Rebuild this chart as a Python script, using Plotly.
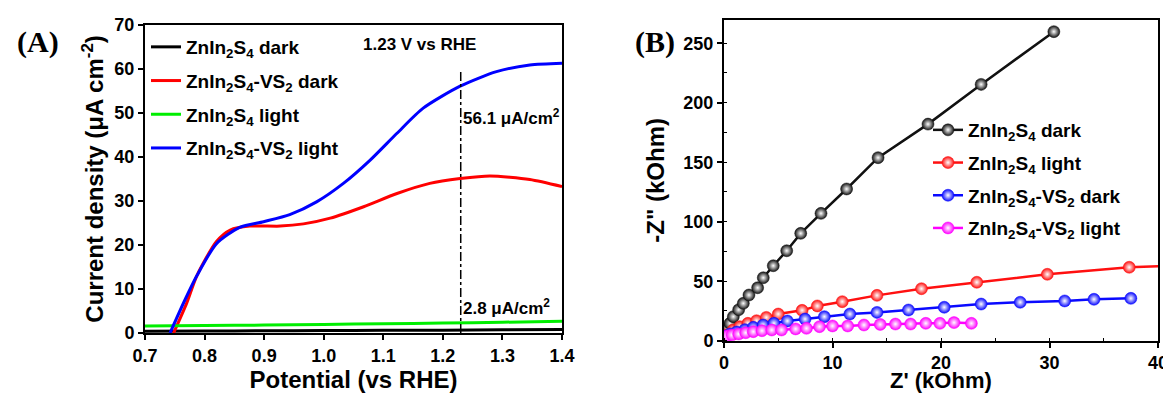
import plotly.graph_objects as go

# ---------------- Panel A data (LSV) ----------------
pot_black = [0.70, 0.80, 0.90, 1.00, 1.10, 1.20, 1.30, 1.40]
cur_black = [0.40, 0.45, 0.50, 0.55, 0.60, 0.65, 0.72, 0.80]

pot_red = [0.748, 0.770, 0.787, 0.820, 0.843, 0.876, 0.927, 0.966, 1.011, 1.067, 1.123, 1.178, 1.229, 1.279, 1.346, 1.400]
cur_red = [0.0, 6.8, 13.0, 20.8, 23.4, 24.3, 24.3, 24.8, 26.1, 28.7, 31.7, 34.0, 35.1, 35.7, 34.9, 33.3]

pot_green = [0.70, 0.80, 0.90, 1.00, 1.10, 1.20, 1.30, 1.40]
cur_green = [1.60, 1.70, 1.80, 1.95, 2.10, 2.25, 2.45, 2.65]

pot_blue = [0.742, 0.767, 0.787, 0.820, 0.859, 0.899, 0.943, 0.988, 1.033, 1.078, 1.123, 1.167, 1.229, 1.290, 1.346, 1.400]
cur_blue = [0.0, 7.5, 13.0, 20.3, 24.0, 25.3, 26.9, 29.8, 34.0, 39.3, 45.4, 51.1, 56.1, 59.4, 60.9, 61.3]

ref_potential = [1.23, 1.23]
ref_current = [0, 60]

# ---------------- Panel B data (Nyquist) ----------------
zr_black = [0.0, 0.25, 0.55, 0.86, 1.35, 1.78, 2.3, 3.1, 3.62, 4.54, 5.78, 7.07, 8.94, 11.3, 14.2, 18.8, 23.7, 30.4]
zi_black = [5.0, 9.0, 14.6, 20.2, 26.0, 31.4, 38.4, 44.5, 52.9, 63.0, 75.6, 90.2, 107.0, 127.5, 153.8, 182.0, 215.4, 259.7]

zr_red = [0.0, 0.84, 1.45, 2.2, 3.0, 3.9, 5.0, 7.2, 8.6, 10.9, 14.1, 18.2, 23.3, 29.8, 37.35, 45.0]
zi_red = [5.0, 9.0, 11.8, 14.6, 16.8, 19.6, 22.4, 25.5, 29.2, 32.8, 38.1, 43.7, 49.1, 55.8, 61.7, 64.5]

zr_blue = [0.0, 0.55, 1.16, 1.92, 2.7, 3.6, 4.6, 5.84, 7.47, 9.25, 11.6, 14.1, 17.0, 20.3, 23.7, 27.3, 31.4, 34.1, 37.5]
zi_blue = [4.0, 5.7, 7.3, 9.3, 11.2, 13.2, 14.6, 16.6, 18.2, 20.2, 22.4, 23.8, 25.8, 28.1, 30.8, 32.3, 33.4, 34.8, 35.6]

zr_mag = [0.0, 0.3, 0.74, 1.35, 2.0, 2.7, 3.5, 4.4, 5.3, 6.6, 7.6, 8.8, 10.0, 11.4, 12.9, 14.4, 15.8, 17.2, 18.6, 19.9, 21.2, 22.8]
zi_mag = [3.0, 3.9, 4.8, 5.6, 6.7, 7.6, 8.4, 9.0, 9.0, 9.9, 10.4, 11.8, 12.4, 12.4, 13.2, 13.7, 14.0, 14.0, 14.6, 14.6, 15.2, 14.6]

FONT = "Liberation Sans"

# page offset (default html body margin) -> paper coordinates
W, H, OFF = 1163, 387, 8


def PX(px):
    return (px - OFF) / W


def PY(py):
    return 1 - (py - OFF) / H


fig = go.Figure()

# Panel A traces
lsv = [
    ("ZnIn<sub>2</sub>S<sub>4</sub> dark", pot_black, cur_black, "#000000"),
    ("ZnIn<sub>2</sub>S<sub>4</sub>-VS<sub>2</sub> dark", pot_red, cur_red, "#ff0000"),
    ("ZnIn<sub>2</sub>S<sub>4</sub> light", pot_green, cur_green, "#00ee00"),
    ("ZnIn<sub>2</sub>S<sub>4</sub>-VS<sub>2</sub> light", pot_blue, cur_blue, "#0000ff"),
]
for i, (name, x, y, c) in enumerate(lsv):
    fig.add_trace(go.Scatter(
        x=x, y=y, mode="lines", name=name,
        line=dict(color=c, width=3, shape="spline", smoothing=0.7),
        xaxis="x", yaxis="y", legend="legend", legendgroup="a%d" % i,
    ))

fig.add_trace(go.Scatter(
    x=ref_potential, y=ref_current, mode="lines", showlegend=False,
    line=dict(color="black", width=1.5, dash="dashdot"),
    xaxis="x", yaxis="y",
))

# Panel B traces
eis = [
    ("ZnIn<sub>2</sub>S<sub>4</sub> dark", zr_black, zi_black, "#111111"),
    ("ZnIn<sub>2</sub>S<sub>4</sub> light", zr_red, zi_red, "#ff1010"),
    ("ZnIn<sub>2</sub>S<sub>4</sub>-VS<sub>2</sub> dark", zr_blue, zi_blue, "#0a0aff"),
    ("ZnIn<sub>2</sub>S<sub>4</sub>-VS<sub>2</sub> light", zr_mag, zi_mag, "#ff00ff"),
]
for i, (name, x, y, c) in enumerate(eis):
    fig.add_trace(go.Scatter(
        x=x, y=y, mode="lines+markers", name=name,
        line=dict(color=c, width=2.5),
        marker=dict(size=12, color=c, gradient=dict(type="radial", color="#ffffff"),
                    line=dict(width=0.5, color=c)),
        xaxis="x2", yaxis="y2", legend="legend2", legendgroup="b%d" % i,
    ))

axis_common = dict(
    showline=True, linecolor="black", linewidth=2, mirror=True,
    ticks="outside", ticklen=5, tickwidth=2, tickcolor="black",
    showgrid=False, zeroline=False, automargin=False,
    tickfont=dict(family=FONT, size=18, color="black", weight="bold"),
)
title_font = dict(family=FONT, size=24, color="black", weight="bold")
leg_font = dict(family=FONT, size=19, color="black", weight="bold")

fig.update_layout(
    width=W, height=H,
    margin=dict(l=0, r=0, t=0, b=0, autoexpand=False),
    paper_bgcolor="white", plot_bgcolor="white",
    font=dict(family=FONT, color="black"),
    xaxis=dict(axis_common, domain=[PX(145), PX(562)], range=[0.7, 1.4], dtick=0.1, tickformat=".1f",
               title=dict(text="Potential (vs RHE)", font=title_font, standoff=6),
               anchor="y"),
    yaxis=dict(axis_common, domain=[PY(333), PY(25)], range=[0, 70], dtick=10,
               title=dict(text="Current density (μA cm<sup>-2</sup>)", font=title_font, standoff=4),
               anchor="x"),
    xaxis2=dict(axis_common, domain=[PX(724), PX(1158)], range=[0, 40], dtick=10,
                minor=dict(ticks="inside", ticklen=3, tickwidth=1, dtick=5, tickcolor="black"),
                anchor="y2"),
    yaxis2=dict(axis_common, domain=[PY(340.7), PY(20)], range=[0, 269.5], dtick=50,
                minor=dict(ticks="inside", ticklen=3, tickwidth=1, dtick=25, tickcolor="black"),
                title=dict(text="-Z\" (kOhm)", font=title_font, standoff=12),
                anchor="x2"),
    legend=dict(x=PX(146), y=PY(28), xanchor="left", yanchor="top", bgcolor="rgba(0,0,0,0)",
                font=leg_font, tracegroupgap=6, itemwidth=30),
    legend2=dict(x=PX(928), y=PY(111), xanchor="left", yanchor="top", bgcolor="rgba(0,0,0,0)",
                 font=leg_font, tracegroupgap=5, itemwidth=30),
    showlegend=True,
)

# x-axis title of panel B placed explicitly just below its tick labels
fig.add_annotation(x=PX(941), y=PY(380), xref="paper", yref="paper", text="Z' (kOhm)",
                   showarrow=False, font=dict(title_font, size=22), xanchor="center", yanchor="middle",
                   borderpad=0)

ann_font = dict(family=FONT, size=17, color="black", weight="bold")
fig.add_annotation(x=1.16, y=65.5, xref="x", yref="y", text="1.23 V vs RHE", showarrow=False,
                   font=ann_font, xanchor="center", yanchor="middle")
fig.add_annotation(x=1.231, y=49.0, xref="x", yref="y", text="56.1 μA/cm<sup>2</sup>", showarrow=False,
                   font=ann_font, xanchor="left", yanchor="middle")
fig.add_annotation(x=1.231, y=5.8, xref="x", yref="y", text="2.8 μA/cm<sup>2</sup>", showarrow=False,
                   font=ann_font, xanchor="left", yanchor="middle")

panel_font = dict(family="Liberation Serif", size=30, color="black", weight="bold")
fig.add_annotation(x=PX(38), y=PY(42), xref="paper", yref="paper", text="(A)",
                   showarrow=False, font=panel_font, xanchor="center", yanchor="middle")
fig.add_annotation(x=PX(655), y=PY(42), xref="paper", yref="paper", text="(B)",
                   showarrow=False, font=panel_font, xanchor="center", yanchor="middle")

fig.write_html("out.html")
